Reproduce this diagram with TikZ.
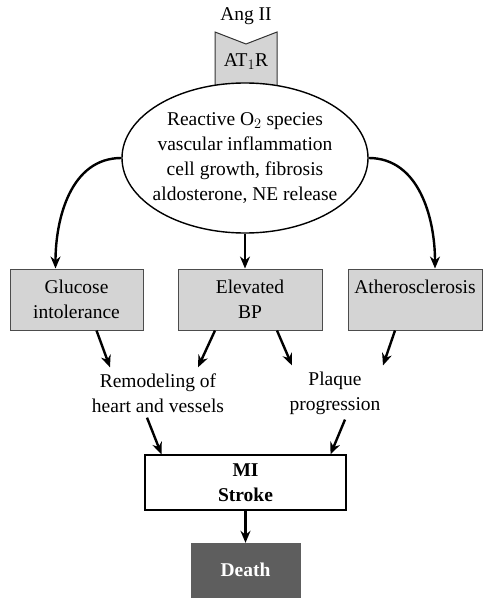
\documentclass[tikz,border=0pt]{standalone}
\usepackage{fontspec}
\setmainfont{Liberation Serif}
\usetikzlibrary{shapes.geometric,arrows.meta}
\begin{document}
\begin{tikzpicture}[x=1pt,y=-1pt,font=\fontsize{19.5}{25}\selectfont,
	gray_box/.style={rectangle,fill=black!17,draw=black!70,line width=1pt,align=center},
	white_box/.style={rectangle,fill=white,draw,line width=1.2pt,align=center,font=\fontsize{19.5}{25}\selectfont\bfseries},
	dark_box/.style={rectangle,fill=black!63,draw=black!63,text=white,align=center,font=\fontsize{19.5}{25}\selectfont\bfseries},
	text_node/.style={align=center,inner sep=2pt},
	arrow_line/.style={-{Stealth[length=12pt,width=10pt]},line width=2.4pt}]
		
		\useasboundingbox (0,0) rectangle (492,607);
		
		\node[text_node] (ang) at (246,16) {Ang II};
		\filldraw[fill=black!17,draw=black!80,line width=1pt] (215,95) -- (215,32) -- (246,44) -- (277,32) -- (277,95) -- cycle;
		\node[ellipse,draw,fill=white,line width=1.4pt,minimum width=246,minimum height=150,inner xsep=-7pt,inner ysep=0pt,align=center] (ros) at (245,158) {Reactive O$_2$ species\\vascular inflammation\\cell growth, fibrosis\\aldosterone, NE release};
		\node[text_node] (at1r) at (246,62) {AT$_1$R};
		
		\node[gray_box,minimum width=133,minimum height=61] (glu) at (76.5,299.5) {Glucose\\intolerance};
		\node[gray_box,minimum width=144,minimum height=61] (bp) at (250,299.5) {Elevated\\BP};
		\node[gray_box,minimum width=134,minimum height=61] (ath) at (415,299.5) {Atherosclerosis\\\mbox{}};
		
		\node[text_node] (remod) at (158,393) {Remodeling of\\heart and vessels};
		\node[text_node] (plaque) at (335,393) {Plaque\\progression};
		
		\node[white_box,minimum width=201,minimum height=55] (mi) at (245.5,482.5) {MI\\Stroke};
		\node[dark_box,minimum width=109,minimum height=54] (death) at (245.5,570) {Death};
		
		\draw[arrow_line] (ros.west) to[out=180,in=90] ([xshift=-21pt]glu.north);
		\draw[arrow_line] (ros.east) to[out=0,in=90] ([xshift=20pt]ath.north);
		\draw[arrow_line] (ros.south) -- (ros.south |- bp.north);
		
		\draw[arrow_line] ([xshift=20pt]glu.south) -- ([xshift=-48pt,yshift=4pt]remod.north);
		\draw[arrow_line] ([xshift=-35pt]bp.south) -- ([xshift=40pt,yshift=4pt]remod.north);
		\draw[arrow_line] ([xshift=27pt]bp.south) -- ([xshift=-43pt,yshift=4pt]plaque.north);
		\draw[arrow_line] ([xshift=-20pt]ath.south) -- ([xshift=48pt,yshift=4pt]plaque.north);
		
		\draw[arrow_line] ([xshift=-11pt,yshift=-3pt]remod.south) -- ([xshift=-84pt]mi.north);
		\draw[arrow_line] ([xshift=10pt,yshift=-3pt]plaque.south) -- ([xshift=85pt]mi.north);
		\draw[arrow_line] (mi.south) -- (death.north);
		\end{tikzpicture}
\end{document}
